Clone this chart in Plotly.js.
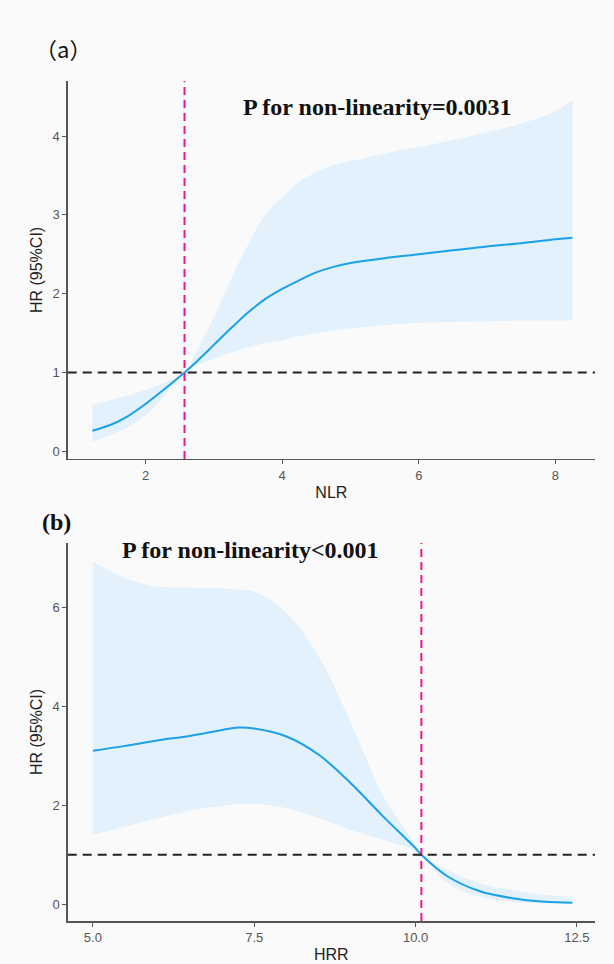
<!DOCTYPE html>
<html>
<head>
<meta charset="utf-8">
<script src="https://cdn.plot.ly/plotly-3.0.1.min.js"></script>
<style>html,body{margin:0;padding:0;background:#fafafa;}#chart{width:614px;height:964px;}</style>
</head>
<body>
<div id="chart"></div>
<script>
// Panel (a): NLR
const nlrX     = [1.22,1.5,1.75,2.0,2.25,2.57,2.75,3.0,3.25,3.5,3.75,4.0,4.25,4.5,4.75,5.0,5.5,6.0,6.5,7.0,7.5,8.0,8.25];
const nlrHR    = [0.26,0.34,0.45,0.60,0.77,1.00,1.14,1.35,1.56,1.76,1.93,2.06,2.17,2.27,2.34,2.39,2.45,2.50,2.55,2.60,2.64,2.69,2.71];
const nlrUpper = [0.59,0.65,0.71,0.78,0.86,1.00,1.28,1.70,2.18,2.62,3.00,3.22,3.42,3.54,3.63,3.68,3.78,3.86,3.95,4.05,4.16,4.32,4.46];
const nlrLower = [0.12,0.21,0.31,0.46,0.68,1.00,1.09,1.17,1.25,1.32,1.37,1.41,1.46,1.50,1.53,1.56,1.60,1.63,1.64,1.65,1.66,1.66,1.66];
const nlrRef = 2.57;
const nlrTicks = [2,4,6,8];
const nlrYTicks = [0,1,2,3,4];

// Panel (b): HRR
const hrrX     = [5.0,5.5,6.0,6.5,7.0,7.25,7.5,8.0,8.5,9.0,9.5,10.0,10.09,10.5,11.0,11.5,12.0,12.43];
const hrrHR    = [3.10,3.20,3.31,3.40,3.52,3.57,3.55,3.39,3.02,2.44,1.77,1.13,1.00,0.56,0.26,0.12,0.05,0.03];
const hrrUpper = [6.92,6.59,6.42,6.40,6.38,6.36,6.32,5.88,5.00,3.66,2.18,1.20,1.00,0.69,0.42,0.29,0.19,0.15];
const hrrLower = [1.40,1.57,1.74,1.89,1.99,2.02,2.03,1.94,1.74,1.50,1.30,1.08,1.00,0.42,0.15,0.05,0.02,0.02];
const hrrRef = 10.09;
const hrrTicks = [5.0,7.5,10.0,12.5];
const hrrTickText = ['5.0','7.5','10.0','12.5'];
const hrrYTicks = [0,2,4,6];

const bandColor = '#e2f1fc';
const lineColor = '#1aa1e8';

const traces = [
  {x:nlrX, y:nlrLower, xaxis:'x', yaxis:'y', mode:'lines', line:{width:0,color:bandColor,shape:'spline',smoothing:1}, hoverinfo:'skip', showlegend:false},
  {x:nlrX, y:nlrUpper, xaxis:'x', yaxis:'y', mode:'lines', fill:'tonexty', fillcolor:bandColor, line:{width:0,color:bandColor,shape:'spline',smoothing:1}, hoverinfo:'skip', showlegend:false},
  {x:nlrX, y:nlrHR, xaxis:'x', yaxis:'y', mode:'lines', line:{width:2,color:lineColor,shape:'spline'}, showlegend:false},
  {x:hrrX, y:hrrLower, xaxis:'x2', yaxis:'y2', mode:'lines', line:{width:0,color:bandColor,shape:'spline',smoothing:1}, hoverinfo:'skip', showlegend:false},
  {x:hrrX, y:hrrUpper, xaxis:'x2', yaxis:'y2', mode:'lines', fill:'tonexty', fillcolor:bandColor, line:{width:0,color:bandColor,shape:'spline',smoothing:1}, hoverinfo:'skip', showlegend:false},
  {x:hrrX, y:hrrHR, xaxis:'x2', yaxis:'y2', mode:'lines', line:{width:2,color:lineColor,shape:'spline'}, showlegend:false}
];

const axisCommon = {
  showgrid:false, zeroline:false, showline:true, linecolor:'#555', linewidth:1.5,
  ticks:'outside', ticklen:4, tickcolor:'#555', tickwidth:1,
  tickfont:{family:'Liberation Sans, Arial, sans-serif', size:13, color:'#555'}
};
const titleFont = {family:'Liberation Sans, Arial, sans-serif', size:16, color:'#222'};

const layout = {
  width:614, height:964,
  margin:{l:0,r:0,t:0,b:0},
  paper_bgcolor:'#fafafa', plot_bgcolor:'#fafafa',
  showlegend:false,
  xaxis: Object.assign({}, axisCommon, {domain:[0.1103,0.969], anchor:'y', range:[0.86,8.58], tickvals:nlrTicks,
           title:{text:'NLR', font:titleFont, standoff:4}}),
  yaxis: Object.assign({}, axisCommon, {domain:[0.5239,0.916], anchor:'x', range:[-0.098,4.70], tickvals:nlrYTicks,
           title:{text:'HR (95%CI)', font:titleFont, standoff:6}}),
  xaxis2: Object.assign({}, axisCommon, {domain:[0.1103,0.969], anchor:'y2', range:[4.61,12.78], tickvals:hrrTicks, ticktext:hrrTickText,
           title:{text:'HRR', font:titleFont, standoff:4}}),
  yaxis2: Object.assign({}, axisCommon, {domain:[0.0446,0.4367], anchor:'x2', range:[-0.34,7.30], tickvals:hrrYTicks,
           title:{text:'HR (95%CI)', font:titleFont, standoff:6}}),
  shapes:[
    {type:'line', xref:'x', yref:'y domain', x0:nlrRef, x1:nlrRef, y0:0, y1:1, line:{color:'#f0168c', width:2, dash:'8px,5px'}},
    {type:'line', xref:'x domain', yref:'y', x0:0, x1:1, y0:1, y1:1, line:{color:'#222', width:2, dash:'9px,6px'}},
    {type:'line', xref:'x2', yref:'y2 domain', x0:hrrRef, x1:hrrRef, y0:0, y1:1, line:{color:'#f0168c', width:2, dash:'8px,5px'}},
    {type:'line', xref:'x2 domain', yref:'y2', x0:0, x1:1, y0:1, y1:1, line:{color:'#222', width:2, dash:'9px,6px'}}
  ],
  annotations:[
    {text:'（a）', xref:'paper', yref:'paper', x:33/614, y:1-48/964, xanchor:'left', yanchor:'middle', showarrow:false,
     font:{family:'Noto Sans CJK SC, sans-serif', size:22, color:'#111'}},
    {text:'<b>P for non-linearity=0.0031</b>', xref:'paper', yref:'paper', x:241/614, y:1-107/964, xanchor:'left', yanchor:'middle', showarrow:false,
     font:{family:'Liberation Serif, Times New Roman, serif', size:24, color:'#111'}},
    {text:'<b>(b)</b>', xref:'paper', yref:'paper', x:40/614, y:1-522/964, xanchor:'left', yanchor:'middle', showarrow:false,
     font:{family:'Liberation Serif, Times New Roman, serif', size:24, color:'#111'}},
    {text:'<b>P for non-linearity<0.001</b>', xref:'paper', yref:'paper', x:120/614, y:1-550/964, xanchor:'left', yanchor:'middle', showarrow:false,
     font:{family:'Liberation Serif, Times New Roman, serif', size:24, color:'#111'}}
  ]
};

Plotly.newPlot('chart', traces, layout, {displayModeBar:false, staticPlot:true});
</script>
</body>
</html>
